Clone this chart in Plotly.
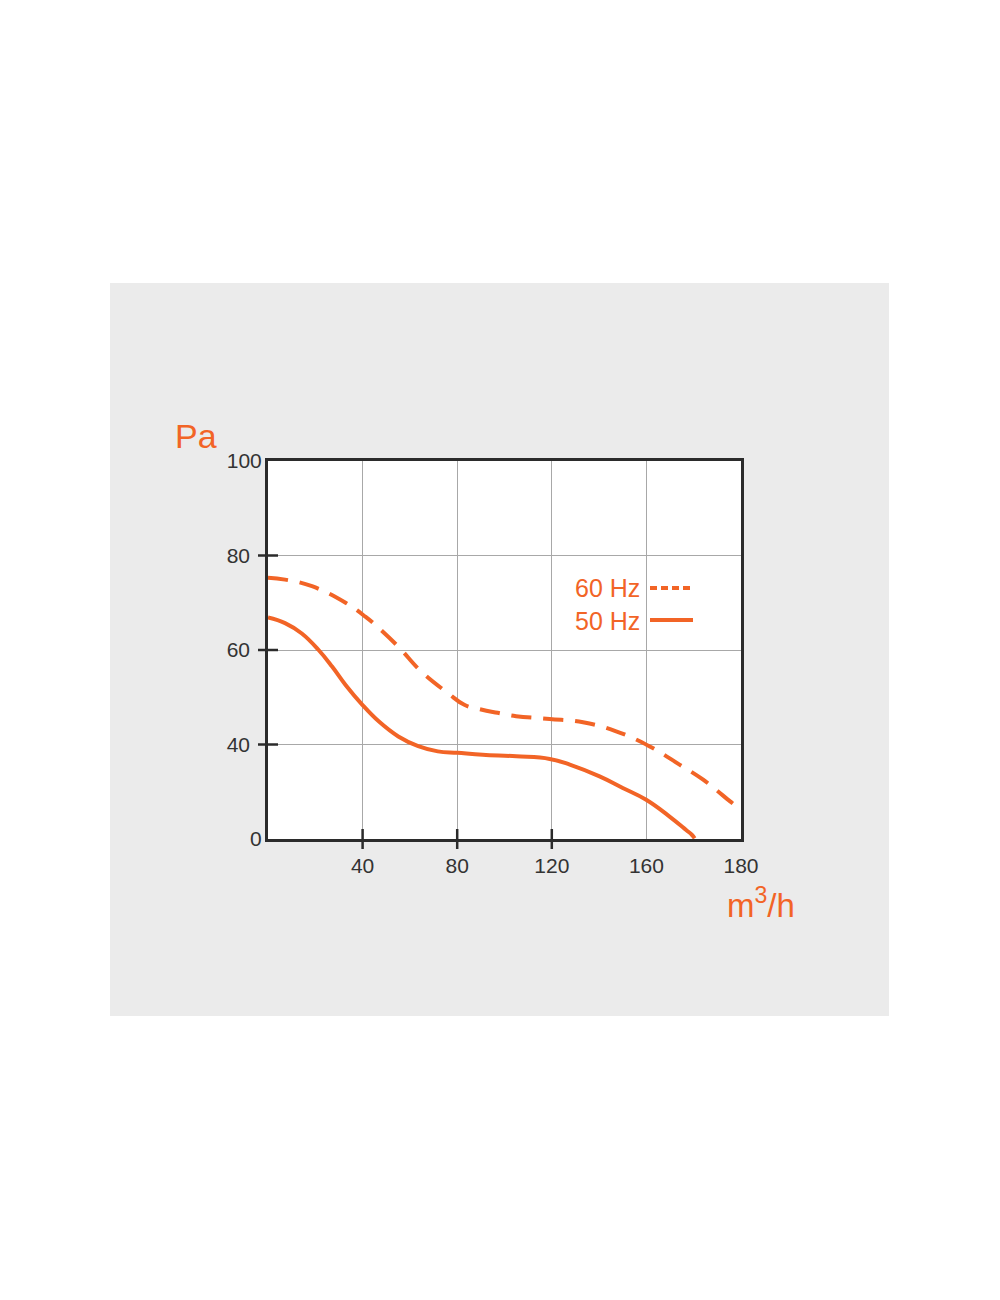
import numpy as np
import plotly.graph_objects as go

# ---- data (in axis-label units) ----
x_tick_labels = [0, 40, 80, 120, 160, 180]
y_tick_labels = [0, 40, 60, 80, 100]

flow_50hz = [0, 7.2, 14.3, 21.4, 27.1, 32.8, 39.9, 46.8, 55.1, 63.5, 71.8, 80.1, 90.8, 105.0, 119.1,
             127.6, 140.2, 150.0, 159.9, 164.9, 168.4, 169.6, 170.2]
pa_50hz = [66.9, 65.7, 63.5, 60.0, 56.5, 52.6, 48.4, 44.9, 41.7, 39.3, 37.1, 36.5, 35.7, 35.0, 33.9,
           31.5, 26.5, 21.6, 16.6, 9.5, 3.8, 1.8, 0.3]

flow_60hz = [0, 7.2, 18.6, 32.8, 41.3, 45.4, 55.1, 64.9, 76.0, 83.0, 90.1, 97.1, 104.9, 119.1, 133.2,
             147.2, 160.6, 167.0, 172.0, 177.7, 178.6]
pa_60hz = [75.3, 74.9, 73.5, 70.0, 67.0, 65.3, 60.7, 55.4, 50.9, 48.4, 47.4, 46.7, 46.0, 45.4, 44.7,
           42.8, 39.3, 31.5, 25.1, 15.9, 14.5]

series_names = ["60 Hz", "50 Hz"]

ORANGE = "#F26426"
FONT = "Liberation Sans, Arial, sans-serif"

# axis gridlines are equally spaced, whatever the label value
x_pos_ticks = list(range(len(x_tick_labels)))
y_pos_ticks = list(range(len(y_tick_labels)))


def xpos(v):
    return np.interp(v, x_tick_labels, x_pos_ticks)


def ypos(v):
    return np.interp(v, y_tick_labels, y_pos_ticks)


fig = go.Figure()
fig.add_trace(go.Scatter(x=xpos(flow_60hz), y=ypos(pa_60hz), mode="lines",
                         line=dict(color=ORANGE, width=4, dash="20px,12px", shape="spline", smoothing=1.2),
                         name=series_names[0], showlegend=False, hoverinfo="skip"))
fig.add_trace(go.Scatter(x=xpos(flow_50hz), y=ypos(pa_50hz), mode="lines",
                         line=dict(color=ORANGE, width=4, shape="spline", smoothing=1.2),
                         name=series_names[1], showlegend=False, hoverinfo="skip"))

# second y axis only to hold the 0 / 100 labels closer to the frame
fig.add_trace(go.Scatter(x=[None], y=[None], yaxis="y2", showlegend=False, hoverinfo="skip"))

# page body adds an 8px offset; compensate
OFF = 8
W, H = 1000 - 2 * OFF, 1300 - 2 * OFF
L, T = 268 - OFF, 461 - OFF
pw, ph = 473, 378
R, B = W - L - pw, H - T - ph


def px_x(p):
    return (p - OFF - L) / pw


def px_y(p):
    return (T + ph - (p - OFF)) / ph


shapes = [
    dict(type="rect", xref="paper", yref="paper", x0=px_x(110), x1=px_x(889), y0=px_y(1016), y1=px_y(283),
         fillcolor="#EBEBEB", line=dict(width=0), layer="below"),
    dict(type="rect", xref="paper", yref="paper", x0=0, x1=1, y0=0, y1=1,
         fillcolor="white", line=dict(width=0), layer="below"),
]
# crossing tick marks
for p in x_pos_ticks[1:4]:
    shapes.append(dict(type="line", xref="x", yref="paper", x0=p, x1=p, y0=-10 / ph, y1=10 / ph,
                       line=dict(color="#2b2b2b", width=2.5)))
for p in y_pos_ticks[1:4]:
    shapes.append(dict(type="line", xref="paper", yref="y", x0=-10 / pw, x1=10 / pw, y0=p, y1=p,
                       line=dict(color="#2b2b2b", width=2.5)))
# legend samples
shapes.append(dict(type="line", xref="paper", yref="paper", x0=px_x(650), x1=px_x(692), y0=px_y(588), y1=px_y(588),
                   line=dict(color=ORANGE, width=4, dash="7px,4px")))
shapes.append(dict(type="line", xref="paper", yref="paper", x0=px_x(650), x1=px_x(693), y0=px_y(620), y1=px_y(620),
                   line=dict(color=ORANGE, width=4)))

annotations = [
    dict(text="Pa", xref="paper", yref="paper", x=px_x(173), y=px_y(436), xanchor="left", yanchor="middle",
         showarrow=False, font=dict(family=FONT, size=34, color=ORANGE)),
    dict(text="m<sup>3</sup>/h", xref="paper", yref="paper", x=px_x(725), y=px_y(903), xanchor="left",
         yanchor="middle", showarrow=False, font=dict(family=FONT, size=33, color=ORANGE)),
    dict(text=series_names[0], xref="paper", yref="paper", x=px_x(642), y=px_y(588), xanchor="right",
         yanchor="middle", showarrow=False, font=dict(family=FONT, size=25, color=ORANGE)),
    dict(text=series_names[1], xref="paper", yref="paper", x=px_x(642), y=px_y(621), xanchor="right",
         yanchor="middle", showarrow=False, font=dict(family=FONT, size=25, color=ORANGE)),
]

fig.update_layout(
    width=W, height=H,
    margin=dict(l=L, r=R, t=T, b=B, pad=0),
    paper_bgcolor="white", plot_bgcolor="white",
    shapes=shapes, annotations=annotations,
    showlegend=False,
    xaxis=dict(range=[0, 5], tickvals=x_pos_ticks[1:], ticktext=[str(v) for v in x_tick_labels[1:]],
               showgrid=True, gridcolor="#A8A8A8", gridwidth=1, zeroline=False,
               showline=True, linecolor="#2b2b2b", linewidth=2.5, mirror=True,
               ticks="outside", ticklen=6, tickcolor="rgba(0,0,0,0)",
               tickfont=dict(family=FONT, size=21, color="#333333"), fixedrange=True),
    yaxis=dict(range=[0, 4], tickvals=y_pos_ticks[1:4], ticktext=[str(v) for v in y_tick_labels[1:4]],
               showgrid=True, gridcolor="#A8A8A8", gridwidth=1, zeroline=False,
               showline=True, linecolor="#2b2b2b", linewidth=2.5, mirror=True,
               ticks="outside", ticklen=11, tickcolor="rgba(0,0,0,0)",
               tickfont=dict(family=FONT, size=21, color="#333333"), fixedrange=True),
    yaxis2=dict(range=[0, 4], overlaying="y", side="left", tickvals=[y_pos_ticks[0], y_pos_ticks[-1]],
                ticktext=[str(y_tick_labels[0]), str(y_tick_labels[-1])], showgrid=False, zeroline=False,
                showline=False, ticks="outside", ticklen=1, tickcolor="rgba(0,0,0,0)",
                tickfont=dict(family=FONT, size=21, color="#333333"), fixedrange=True),
)

fig.write_html("out.html")
